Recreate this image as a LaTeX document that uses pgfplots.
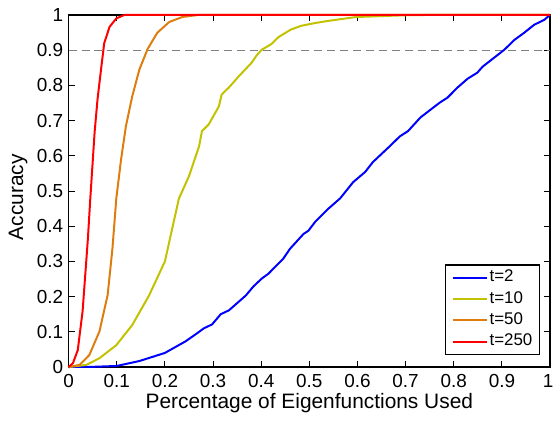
\documentclass[border=0pt]{standalone}
\usepackage{pgfplots}
\pgfplotsset{compat=1.18}
\usepackage{fontspec}
\setmainfont{Liberation Sans}
\definecolor{cblue}{rgb}{0,0,1}
\definecolor{cyel}{rgb}{0.76,0.76,0}
\definecolor{corg}{rgb}{0.87,0.49,0.05}
\definecolor{cred}{rgb}{1,0,0}
\begin{document}
\begin{tikzpicture}[x=1pt,y=1pt]
\begin{axis}[
  name=ax,
  scale only axis,
  width=484pt, height=354pt,
  xmin=0, xmax=1, ymin=0, ymax=1,
  clip=false,
  xtick={0,0.1,...,1.01}, ytick={0,0.1,...,1.01},
  xticklabels={0,0.1,0.2,0.3,0.4,0.5,0.6,0.7,0.8,0.9,\hspace*{-4pt}1},
  yticklabels={0,0.1,0.2,0.3,0.4,0.5,0.6,0.7,0.8,0.9,1},
  tick align=inside, major tick length=6pt,
  tick style={black, line width=0.9pt},
  axis line style={line width=1.2pt},
  tick label style={font=\fontsize{19}{22}\selectfont},
  xticklabel style={yshift=-4pt},
  yticklabel style={xshift=-2pt},
  xlabel={Percentage of Eigenfunctions Used},
  ylabel={Accuracy},
  xlabel style={font=\fontsize{21}{24}\selectfont, at={(axis description cs:0.5,-0.1186)}, anchor=base},
  ylabel style={font=\fontsize{21}{24}\selectfont, at={(axis description cs:-0.0944,0.482)}, anchor=base, rotate=0},
  /pgf/number format/assume math mode=true,
  legend style={at={(0.979,0.034)}, anchor=south east, draw=black, line width=1.2pt,
    font=\fontsize{17}{20}\selectfont, inner xsep=6pt, inner ysep=4pt, row sep=4pt,
    nodes={inner sep=1pt, text height=12pt, text depth=3.5pt}},
  legend cell align=left,
  legend image code/.code={\draw[#1, line width=2.2pt] (0pt,0pt) -- (35pt,0pt);},
  every axis plot/.append style={line width=2pt},
]
\addplot[gray, line width=0.9pt, dash pattern=on 8pt off 5pt, forget plot] coordinates {(0,0.9) (1,0.9)};
\addplot[cblue] coordinates {
(0,0) (0.05,0.0005) (0.1,0.003) (0.147,0.017) (0.2,0.04) (0.243,0.073) (0.267,0.096) (0.281,0.11)
(0.298,0.121) (0.316,0.15) (0.333,0.161) (0.368,0.203) (0.384,0.229) (0.401,0.251) (0.415,0.265)
(0.436,0.294) (0.446,0.308) (0.46,0.336) (0.488,0.378) (0.498,0.387) (0.512,0.412) (0.539,0.449)
(0.564,0.479) (0.591,0.525) (0.616,0.554) (0.632,0.582) (0.667,0.627) (0.688,0.655) (0.705,0.67)
(0.731,0.709) (0.771,0.751) (0.787,0.765) (0.808,0.794) (0.829,0.819) (0.849,0.836) (0.86,0.853)
(0.905,0.901) (0.926,0.929) (0.946,0.949) (0.967,0.972) (0.988,0.986) (1,1)};
\addlegendentry{t=2}
\addplot[cyel] coordinates {
(0,0) (0.037,0.006) (0.064,0.025) (0.099,0.062) (0.132,0.119) (0.167,0.203) (0.2,0.3) (0.229,0.478)
(0.25,0.542) (0.271,0.627) (0.277,0.67) (0.291,0.689) (0.312,0.74) (0.318,0.774) (0.333,0.794)
(0.353,0.825) (0.38,0.864) (0.39,0.884) (0.401,0.901) (0.421,0.917) (0.436,0.937) (0.461,0.958)
(0.483,0.969) (0.512,0.977) (0.539,0.983) (0.597,0.994) (0.657,0.997) (0.7,0.999) (0.75,1) (1,1)};
\addlegendentry{t=10}
\addplot[corg] coordinates {
(0,0) (0.023,0.006) (0.043,0.034) (0.064,0.101) (0.081,0.204) (0.091,0.336) (0.099,0.478)
(0.109,0.59) (0.119,0.684) (0.132,0.768) (0.147,0.845) (0.164,0.903) (0.184,0.949) (0.209,0.98)
(0.236,0.994) (0.27,1) (1,1)};
\addlegendentry{t=50}
\addplot[cred] coordinates {
(0,0) (0.009,0.011) (0.019,0.048) (0.029,0.158) (0.04,0.364) (0.045,0.478) (0.054,0.667)
(0.06,0.76) (0.068,0.853) (0.074,0.92) (0.085,0.966) (0.099,0.99) (0.116,1) (1,1)};
\addlegendentry{t=250}
\end{axis}
\pgfresetboundingbox
\path ([shift={(-69pt,-57pt)}]ax.south west) rectangle ([shift={(4pt,15pt)}]ax.north east);
\end{tikzpicture}
\end{document}
